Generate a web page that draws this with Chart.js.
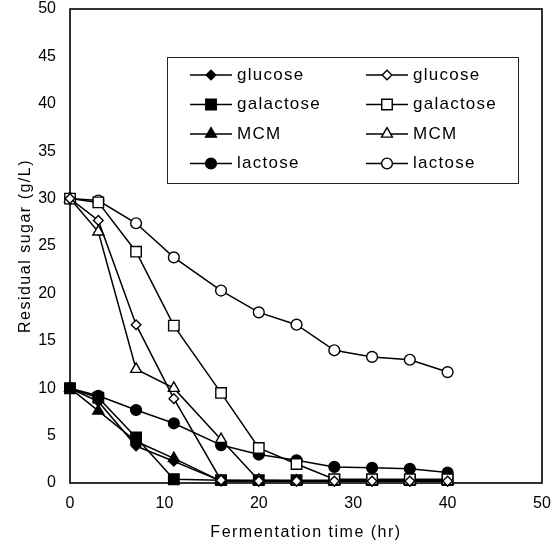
<!DOCTYPE html>
<html>
<head>
<meta charset="utf-8">
<script src="https://cdn.jsdelivr.net/npm/chart.js@4.4.1/dist/chart.umd.min.js"></script>
<style>
  body { margin: 0; background: #fff; }
  canvas { display: block; }
</style>
</head>
<body>
<canvas id="lineChart" width="560" height="544"></canvas>
<script>
// === Datos ===
const tiempos = [0, 3, 7, 11, 16, 20, 24, 28, 32, 36, 40];

// Series con marcador relleno (azúcar inicial 10 g/L)
const glucosaLlena   = [10, 8.6, 3.9, 2.3, 0.2, 0.2, 0.2, 0.2, 0.2, 0.2, 0.2];
const galactosaLlena = [10, 9.0, 4.8, 0.4, 0.3, 0.3, 0.3, 0.3, 0.3, 0.3, 0.3];
const mcmLlena       = [10, 7.6, 4.4, 2.6, 0.2, 0.2, 0.2, 0.2, 0.2, 0.2, 0.2];
const lactosaLlena   = [10, 9.2, 7.7, 6.3, 4.0, 3.0, 2.4, 1.7, 1.6, 1.5, 1.1];

// Series con marcador vacío (azúcar inicial 30 g/L)
const glucosaVacia   = [30, 27.7, 16.7, 8.9, 0.3, 0.2, 0.2, 0.2, 0.2, 0.2, 0.2];
const galactosaVacia = [30, 29.6, 24.4, 16.6, 9.5, 3.7, 2.0, 0.4, 0.4, 0.4, 0.4];
const mcmVacia       = [30, 26.5, 12.0, 10.0, 4.6, 0.3, 0.2, 0.2, 0.2, 0.2, 0.2];
const lactosaVacia   = [30, 29.8, 27.4, 23.8, 20.3, 18.0, 16.7, 14.0, 13.3, 13.0, 11.7];

const nombres = ['glucose', 'galactose', 'MCM', 'lactose'];
const ticksX = [0, 10, 20, 30, 40, 50];
const ticksY = [0, 5, 10, 15, 20, 25, 30, 35, 40, 45, 50];
const tituloX = 'Fermentation time (hr)';
const tituloY = 'Residual sugar (g/L)';

// === Estilos de marcador por azúcar ===
const marcadores = [
  { pointStyle: 'rectRot', radius: 4.8 },
  { pointStyle: 'rect', radius: 7.4 },
  { pointStyle: 'triangle', radius: 6.3 },
  { pointStyle: 'circle', radius: 5.4 }
];

const fuente = '"Liberation Sans", Arial, sans-serif';
Chart.defaults.font.family = fuente;
Chart.defaults.color = '#000';

const crearSerie = (nombre, valores, i, relleno) => ({
  label: nombre,
  data: tiempos.map((t, k) => ({ x: t, y: valores[k] })),
  borderColor: '#000',
  borderWidth: 1.5,
  backgroundColor: relleno ? '#000' : '#fff',
  pointStyle: marcadores[i].pointStyle,
  pointRadius: marcadores[i].radius,
  pointHoverRadius: marcadores[i].radius,
  pointBorderWidth: 1.4,
  pointBorderColor: '#000',
  pointBackgroundColor: relleno ? '#000' : '#fff',
  tension: 0,
  fill: false,
  clip: false,
  relleno: relleno,
  indice: i
});

const llenas = [glucosaLlena, galactosaLlena, mcmLlena, lactosaLlena];
const vacias = [glucosaVacia, galactosaVacia, mcmVacia, lactosaVacia];

// las vacías van primero para quedar dibujadas encima
const datasets = [
  ...vacias.map((v, i) => crearSerie(nombres[i], v, i, false)),
  ...llenas.map((v, i) => crearSerie(nombres[i], v, i, true))
];

// === Marco, espaciado de texto y leyenda ===
const marcoYLeyenda = {
  id: 'marcoYLeyenda',
  beforeDraw(chart) {
    // los títulos de los ejes se dibujan antes de los datos
    chart.ctx.letterSpacing = '1.5px';
  },
  beforeDatasetsDraw(chart) {
    const ctx = chart.ctx;
    const a = chart.chartArea;
    ctx.letterSpacing = '0px';
    ctx.save();
    ctx.strokeStyle = '#000';
    ctx.lineWidth = 1.6;
    ctx.strokeRect(a.left, a.top, a.right - a.left, a.bottom - a.top);
    ctx.restore();
  },
  afterDraw(chart) {
    const ctx = chart.ctx;
    ctx.save();
    ctx.fillStyle = '#fff';
    ctx.fillRect(167, 57, 351, 126);
    ctx.strokeStyle = '#222';
    ctx.lineWidth = 1;
    ctx.strokeRect(167.5, 57.5, 351, 126);

    const columnas = [
      { x1: 190, x2: 232, texto: 237, relleno: true },
      { x1: 366, x2: 408, texto: 413, relleno: false }
    ];
    ctx.font = '17px ' + fuente;
    ctx.letterSpacing = '1.25px';
    ctx.textBaseline = 'middle';
    ctx.textAlign = 'left';

    columnas.forEach(col => {
      chart.data.datasets
        .filter(ds => ds.relleno === col.relleno)
        .forEach(ds => {
          const y = 75 + ds.indice * 29.5;
          ctx.strokeStyle = '#000';
          ctx.lineWidth = 1.5;
          ctx.beginPath();
          ctx.moveTo(col.x1, y);
          ctx.lineTo(col.x2, y);
          ctx.stroke();
          ctx.fillStyle = ds.pointBackgroundColor;
          ctx.lineWidth = 1.4;
          Chart.helpers.drawPoint(ctx, {
            pointStyle: ds.pointStyle,
            radius: ds.pointRadius,
            rotation: 0,
            borderWidth: 1.4
          }, (col.x1 + col.x2) / 2, y);
          ctx.fillStyle = '#000';
          ctx.fillText(ds.label, col.texto, y);
        });
    });
    ctx.restore();
  }
};

// === Gráfica de línea ===
new Chart(document.getElementById('lineChart'), {
  type: 'line',
  data: { datasets: datasets },
  options: {
    responsive: false,
    animation: false,
    layout: { padding: { left: 0, right: 18, top: 9, bottom: 0 } },
    plugins: {
      legend: { display: false },
      tooltip: { enabled: false }
    },
    scales: {
      x: {
        type: 'linear',
        min: 0,
        max: 50,
        afterBuildTicks: s => { s.ticks = ticksX.map(v => ({ value: v })); },
        afterFit: s => { s.height = 61; s.paddingLeft = 0; s.paddingRight = 0; },
        grid: { display: false, drawTicks: false },
        border: { display: false },
        ticks: { z: 1, padding: 11, font: { size: 16 }, color: '#000', maxRotation: 0 },
        title: {
          display: true,
          text: tituloX,
          font: { size: 16 },
          color: '#000',
          padding: { top: 0, bottom: 2 }
        }
      },
      y: {
        type: 'linear',
        min: 0,
        max: 50,
        afterBuildTicks: s => { s.ticks = ticksY.map(v => ({ value: v })); },
        afterFit: s => { s.width = 70; s.paddingTop = 0; s.paddingBottom = 0; },
        grid: { display: false, drawTicks: false },
        border: { display: false },
        ticks: { z: 1, padding: 14, font: { size: 16 }, color: '#000' },
        title: {
          display: true,
          text: tituloY,
          font: { size: 16 },
          color: '#000',
          padding: { top: 16, bottom: 0 }
        }
      }
    }
  },
  plugins: [marcoYLeyenda]
});
</script>
</body>
</html>
